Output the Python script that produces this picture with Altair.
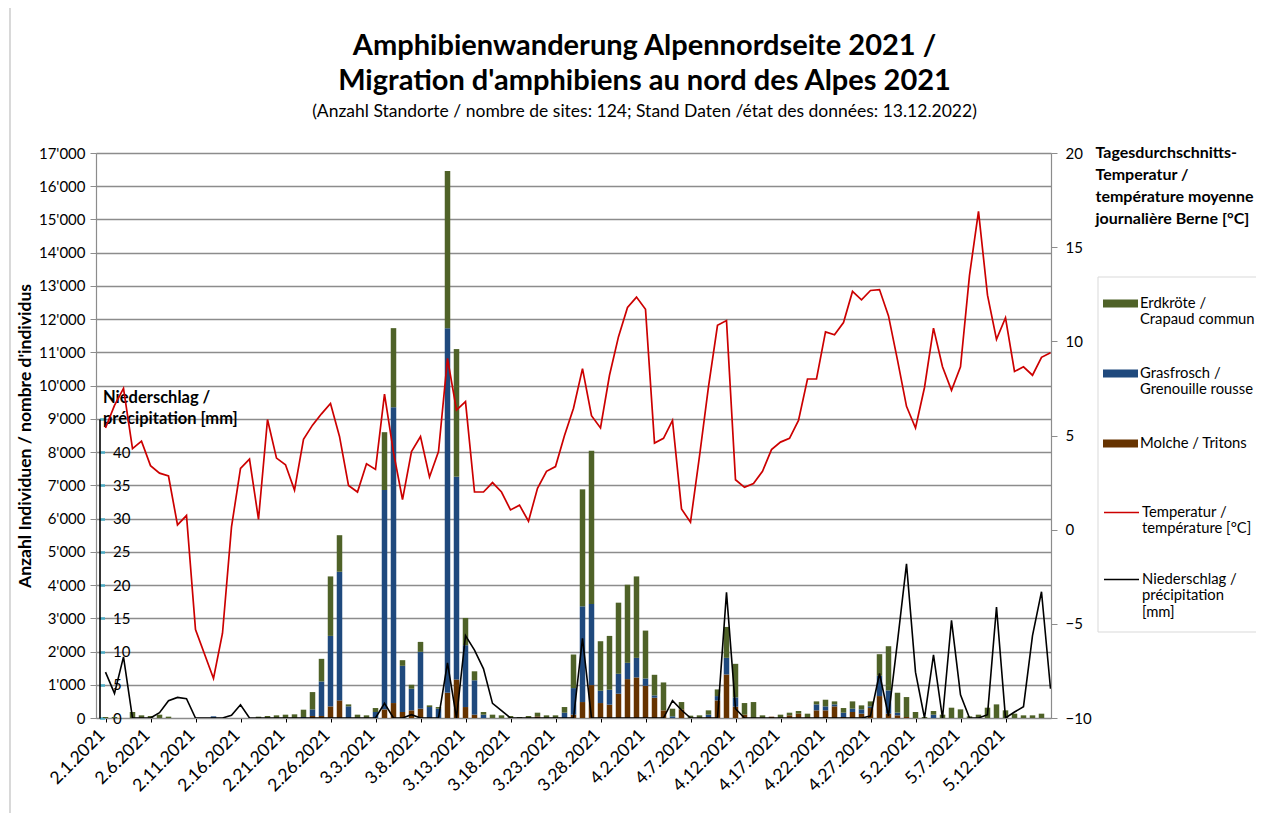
import altair as alt
import pandas as pd
from datetime import datetime, timedelta, timezone

# ---------------- data ----------------
START = datetime(2021, 2, 1, 12, tzinfo=timezone.utc)

LBL_ERD = "Erdkröte /\nCrapaud commun"
LBL_GRAS = "Grasfrosch /\nGrenouille rousse"
LBL_MOL = "Molche / Tritons"
LBL_TEMP = "Temperatur /\ntempérature [°C]"
LBL_PREC = "Niederschlag /\nprécipitation\n[mm]"

erdkroete = [30, 30, 0, 180, 80, 60, 100, 40, 0, 0,
             0, 0, 0, 0, 0, 0, 0, 40, 60, 80,
             100, 110, 220, 520, 680, 1790, 1100, 60, 100, 80,
             120, 1740, 2380, 170, 120, 300, 50, 50, 4730, 3840,
             820, 270, 80, 100, 80, 60, 30, 60, 110, 80,
             80, 170, 1010, 3520, 4610, 1490, 1620, 2140, 2350, 2450,
             1440, 620, 840, 230, 220, 70, 80, 130, 200, 930,
             1010, 350, 480, 80, 0, 100, 80, 80, 100, 90,
             200, 90, 140, 220, 120, 150, 650, 1330, 600, 600,
             180, 30, 110, 100, 310, 260, 50, 100, 310, 410,
             230, 130, 80, 80, 130]
grasfrosch = [0, 0, 0, 0, 0, 0, 0, 0, 0, 0,
              0, 0, 50, 0, 0, 0, 0, 0, 0, 0,
              0, 0, 30, 200, 1040, 2120, 3870, 350, 0, 0,
              180, 6600, 8900, 1390, 650, 1710, 330, 280, 10970, 6100,
              1860, 1035, 100, 0, 0, 0, 0, 0, 0, 0,
              0, 160, 800, 2880, 2440, 370, 450, 600, 490, 590,
              220, 70, 0, 50, 0, 0, 0, 70, 130, 500,
              280, 0, 0, 0, 0, 0, 0, 0, 0, 180,
              120, 60, 130, 100, 130, 50, 610, 700, 80, 0,
              0, 0, 100, 0, 0, 0, 0, 0, 0, 0,
              0, 0, 0, 0, 0]
molche = [0, 0, 0, 0, 0, 0, 0, 0, 0, 0,
          0, 0, 0, 0, 0, 0, 0, 0, 0, 0,
          0, 0, 0, 60, 60, 350, 530, 0, 0, 0,
          0, 260, 450, 180, 230, 280, 0, 0, 760, 1160,
          330, 100, 0, 0, 0, 0, 0, 0, 50, 0,
          0, 0, 100, 480, 990, 450, 400, 730, 1170, 1220,
          970, 610, 230, 0, 260, 0, 0, 30, 530, 1310,
          340, 100, 0, 0, 40, 0, 80, 130, 30, 230,
          230, 350, 30, 180, 130, 300, 660, 130, 80, 30,
          0, 0, 0, 0, 0, 0, 0, 0, 0, 0,
          0, 0, 0, 0, 0]
temperatur = [5.4, 6.6, 7.5, 4.3, 4.7, 3.4, 3.0, 2.85, 0.25, 0.75,
              -5.3, -6.6, -7.9, -5.5, 0.15, 3.25, 3.75, 0.55, 5.85, 3.8,
              3.45, 2.1, 4.8, 5.55, 6.15, 6.7, 4.95, 2.35, 2.0, 3.5,
              3.2, 7.2, 4.1, 1.6, 4.15, 4.95, 2.8, 4.15, 9.1, 6.35,
              6.8, 2.0, 2.0, 2.5, 2.0, 1.05, 1.3, 0.45, 2.2, 3.1,
              3.35, 5.0, 6.45, 8.55, 6.05, 5.4, 8.2, 10.25, 11.8, 12.35,
              11.7, 4.6, 4.85, 5.8, 1.1, 0.4, 3.9, 7.6, 10.85, 11.1,
              2.65, 2.25, 2.45, 3.1, 4.25, 4.65, 4.85, 5.8, 8.0, 8.0,
              10.5, 10.35, 11.0, 12.65, 12.2, 12.7, 12.75, 11.35, 9.0, 6.55,
              5.4, 7.55, 10.7, 8.65, 7.4, 8.65, 13.5, 16.9, 12.45, 10.1,
              11.25, 8.4, 8.65, 8.2, 9.15, 9.4]
niederschlag = [6.9, 3.7, 9.2, 0, 0, 0, 0.8, 2.6, 3.1, 2.9,
                0, 0, 0, 0, 0.4, 2.0, 0, 0, 0, 0,
                0, 0, 0, 0, 0, 0, 0, 0, 0, 0,
                0, 2.2, 0, 0, 0.5, 0, 0, 0, 8.3, 0,
                12.4, 10.2, 7.4, 2.2, 1.1, 0, 0, 0, 0, 0,
                0, 0, 0, 12.0, 0, 0, 0, 0, 0, 0,
                0, 0, 0, 2.6, 1.2, 0, 0, 0, 0, 18.9,
                1.4, 0, 0, 0, 0, 0, 0, 0, 0, 0,
                0, 0, 0, 0, 0, 0.3, 6.7, 0.3, 11.5, 23.2,
                6.9, 0, 9.5, 0, 14.7, 3.5, 0, 0, 0.5, 16.7,
                0, 0.9, 1.7, 12.4, 19.0, 4.4]

N_BARS = len(erdkroete)
N_LINE = len(temperatur)
dates = [(START + timedelta(days=i)).strftime("%Y-%m-%dT%H:%M:%SZ") for i in range(N_LINE)]

rows = []
for i in range(N_BARS):
    for name, arr, order in [(LBL_MOL, molche, 0), (LBL_GRAS, grasfrosch, 1), (LBL_ERD, erdkroete, 2)]:
        rows.append({"date": dates[i], "species": name, "count": arr[i], "order": order})
bars_df = pd.DataFrame(rows)
temp_df = pd.DataFrame({"date": dates, "value": temperatur, "series": LBL_TEMP})
prec_df = pd.DataFrame({"date": dates, "value": niederschlag, "series": LBL_PREC})


def ms(dt):
    return int(dt.timestamp() * 1000)


UTC = timezone.utc
x_domain = [ms(datetime(2021, 2, 1, tzinfo=UTC)), ms(datetime(2021, 5, 17, tzinfo=UTC))]
tick_vals = [ms(START + timedelta(days=i)) for i in range(0, 101, 5)]

# ---------------- style ----------------
W, H = 955, 565
GREEN, BLUE, BROWN = "#4F6228", "#1F497D", "#663300"
RED = "#CC0000"
GRID = "#8c8c8c"
FONT = "Lato"
LEG_FS = 14.8

x_enc = alt.X(
    "date:T",
    title=None,
    scale=alt.Scale(type="utc", domain=x_domain),
    axis=alt.Axis(values=tick_vals, labelExpr="utcFormat(datum.value, '%-m.%-d.%Y')",
                  labelAngle=-45, labelFontSize=17.5, labelFont=FONT, labelColor="black",
                  labelPadding=4, labelOffset=-10, labelOverlap=False, tickColor="black",
                  tickSize=4, domainColor=GRID, domainWidth=1.2, grid=False),
)

bars = alt.Chart(bars_df).mark_bar(size=5.5).encode(
    x=x_enc,
    y=alt.Y("count:Q", stack="zero",
            scale=alt.Scale(domain=[0, 17000], nice=False),
            title="Anzahl Individuen / nombre d'individus",
            axis=alt.Axis(orient="left", values=list(range(0, 17001, 1000)), grid=True,
                          gridColor=GRID, gridWidth=1.3, domainColor=GRID, domainWidth=1.2,
                          tickColor=GRID, tickSize=6, labelFontSize=15, labelFont=FONT,
                          labelColor="black", labelPadding=5,
                          labelExpr='replace(format(datum.value, ","), ",", "\'")',
                          titleFontSize=17.5, titleFont=FONT, titleFontWeight="bold",
                          titleColor="black", titlePadding=4)),
    color=alt.Color("species:N",
                    scale=alt.Scale(domain=[LBL_ERD, LBL_GRAS, LBL_MOL], range=[GREEN, BLUE, BROWN]),
                    legend=alt.Legend(title=None, orient="none", legendX=1007, legendY=133,
                                      direction="vertical", padding=0,
                                      symbolType="M-1,-0.23H1V0.23H-1Z", symbolSize=1225,
                                      symbolStrokeWidth=0, labelExpr="split(datum.label, '\\n')",
                                      labelFont=FONT, labelFontSize=LEG_FS, labelColor="black",
                                      labelOffset=2, rowPadding=28, labelLimit=400)),
    order=alt.Order("order:Q", sort="ascending"),
)

line_scale = alt.Scale(domain=[LBL_TEMP, LBL_PREC], range=[RED, "black"])
line_legend = alt.Legend(title=None, orient="none", legendX=1007, legendY=341,
                         direction="vertical", padding=0, symbolType="stroke",
                         symbolSize=1225, symbolStrokeWidth=1.6,
                         labelExpr="split(datum.label, '\\n')", labelFont=FONT,
                         labelFontSize=LEG_FS, labelColor="black", labelOffset=2,
                         rowPadding=24, labelLimit=400)

temp = alt.Chart(temp_df).mark_line(strokeWidth=1.7, clip=True).encode(
    x=x_enc,
    y=alt.Y("value:Q", scale=alt.Scale(domain=[-10, 20], nice=False, zero=False),
            title=["Tagesdurchschnitts-", "Temperatur /", "température moyenne", "journalière Berne [°C]"],
            axis=alt.Axis(orient="right", values=[-10, -5, 0, 5, 10, 15, 20], grid=False,
                          domainColor=GRID, domainWidth=1.2, tickColor=GRID, tickSize=6,
                          labelFontSize=15, labelFont=FONT, labelColor="black", labelPadding=8,
                          titleAngle=0, titleAlign="left", titleBaseline="top", titleX=44,
                          titleY=-9, titleFontSize=16, titleFont=FONT, titleFontWeight="bold",
                          titleColor="black", titleLineHeight=22)),
    stroke=alt.Stroke("series:N", scale=line_scale, legend=line_legend),
)

prec = alt.Chart(prec_df).mark_line(strokeWidth=1.6, clip=True).encode(
    x=x_enc,
    y=alt.Y("value:Q", scale=alt.Scale(domain=[0, 45], range=[H, H - 45 * H / 85], nice=False),
            title=["Niederschlag /", "précipitation [mm]"],
            axis=alt.Axis(orient="right", offset=-(W - 3.5), values=list(range(0, 46, 5)),
                          labelExpr="datum.value == 45 ? '' : datum.value", grid=False,
                          domainColor="black", domainWidth=1.6, tickColor="#4BACC6",
                          tickWidth=2.5, tickSize=5, labelFontSize=15, labelFont=FONT,
                          labelColor="black", labelPadding=8, titleAngle=0, titleAlign="left",
                          titleBaseline="top", titleX=3, titleY=236, titleFontSize=16.5,
                          titleFont=FONT, titleFontWeight="bold", titleColor="black",
                          titleLineHeight=21)),
    stroke=alt.Stroke("series:N", scale=line_scale, legend=line_legend),
)

one = pd.DataFrame({"a": [0]})
box = alt.Chart(one).mark_rect(fill="transparent", stroke="#d9d9d9", strokeWidth=1).encode(
    x=alt.value(1002), x2=alt.value(1300), y=alt.value(124), y2=alt.value(479))
border = alt.Chart(one).mark_rule(color="#bfbfbf", strokeWidth=1.2).encode(
    x=alt.value(-86), y=alt.value(-145), y2=alt.value(665))

chart = alt.layer(bars, temp, prec, box, border).resolve_scale(y="independent").properties(
    width=W, height=H,
    padding={"left": 88, "top": 145, "right": 205, "bottom": 95},
    autosize=alt.AutoSizeParams(type="none"),
    title=alt.TitleParams(
        text=["Amphibienwanderung Alpennordseite 2021 /", "Migration d'amphibiens au nord des Alpes 2021"],
        subtitle="(Anzahl Standorte / nombre de sites: 124; Stand Daten /état des données: 13.12.2022)",
        font=FONT, fontSize=29, fontWeight="bold", lineHeight=35, color="black",
        subtitleFont=FONT, subtitleFontSize=17.5, subtitleColor="black", subtitlePadding=7,
        anchor="middle", frame="group", dx=71, offset=-113),
).configure_view(strokeWidth=0).configure(font=FONT, background="white")

chart.save("out.html", embed_options={"renderer": "svg", "actions": False})
